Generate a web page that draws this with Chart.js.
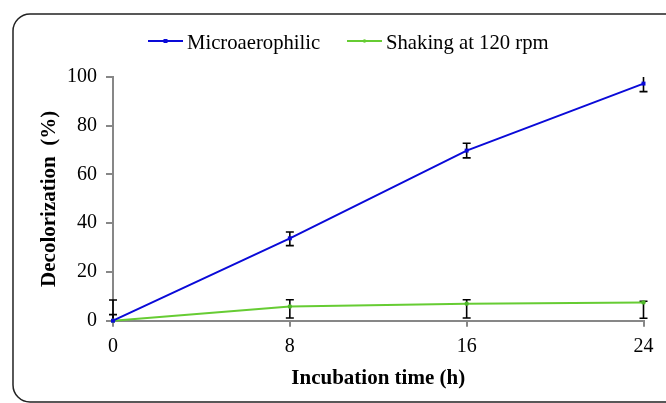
<!DOCTYPE html>
<html>
<head>
<meta charset="utf-8">
<script src="https://cdn.jsdelivr.net/npm/chart.js@4.4.1/dist/chart.umd.min.js"></script>
<style>
  html, body { margin: 0; padding: 0; background: #fff; }
  #wrap { width: 666px; height: 403px; position: relative; }
</style>
</head>
<body>
<div id="wrap"><canvas id="chart" width="666" height="403"></canvas></div>
<script>
// data
const hours = [0, 8, 16, 24];
const seriesNames = ["Microaerophilic", "Shaking at 120 rpm"];
const microValues = [0, 33.8, 69.8, 97.3];
const microLow = [-2.5, 30.8, 66.8, 94.0];
const microHigh = [2.5, 36.4, 72.8, 100.6];
const shakeValues = [0, 5.8, 7.0, 7.5];
const shakeLow = [-8.5, 1.1, 1.1, 1.0];
const shakeHigh = [8.5, 8.6, 8.6, 8.0];
const xTicks = [0, 8, 16, 24];
const yTicks = [0, 20, 40, 60, 80, 100];

const serif = '"Liberation Serif", "Times New Roman", serif';
const blue = "#0a0ad8";
const green = "#66cc33";
const axisGrey = "#878787";
const ink = "#000";

function toPoints(xs, ys) {
  return xs.map((x, i) => ({ x: x, y: ys[i] }));
}

// rounded frame round the whole figure
const framePlugin = {
  id: "frame",
  beforeDraw(chart) {
    const ctx = chart.ctx;
    ctx.save();
    ctx.fillStyle = "#fff";
    ctx.fillRect(0, 0, chart.width, chart.height);
    ctx.beginPath();
    ctx.roundRect(13, 14, 720, 388, 17);
    ctx.lineWidth = 1.5;
    ctx.strokeStyle = "#222";
    ctx.stroke();
    ctx.restore();
  },
};

// error bars, clipped at the plot area like in the original
const errorBarPlugin = {
  id: "errorBars",
  beforeDatasetsDraw(chart) {
    const ctx = chart.ctx;
    const area = chart.chartArea;
    const yScale = chart.scales.y;
    const bounds = [
      [microLow, microHigh],
      [shakeLow, shakeHigh],
    ];
    ctx.save();
    ctx.beginPath();
    ctx.rect(area.left - 10, area.top, area.right - area.left + 20, area.bottom - area.top);
    ctx.clip();
    ctx.strokeStyle = "#000";
    ctx.lineWidth = 1.6;
    chart.data.datasets.forEach((ds, i) => {
      const meta = chart.getDatasetMeta(i);
      meta.data.forEach((pt, j) => {
        const yl = yScale.getPixelForValue(bounds[i][0][j]);
        const yh = yScale.getPixelForValue(bounds[i][1][j]);
        ctx.beginPath();
        ctx.moveTo(pt.x, yl);
        ctx.lineTo(pt.x, yh);
        ctx.moveTo(pt.x - 4, yl);
        ctx.lineTo(pt.x + 4, yl);
        ctx.moveTo(pt.x - 4, yh);
        ctx.lineTo(pt.x + 4, yh);
        ctx.stroke();
      });
    });
    ctx.restore();
  },
};

// legend drawn by hand: short line with the marker in the middle
const legendPlugin = {
  id: "handLegend",
  afterDraw(chart) {
    const ctx = chart.ctx;
    const items = [
      { x: 148, color: blue, style: "rect" },
      { x: 347, color: green, style: "circle" },
    ];
    ctx.save();
    ctx.font = "20.7px " + serif;
    ctx.textBaseline = "alphabetic";
    items.forEach((it, i) => {
      const y = 41;
      ctx.strokeStyle = it.color;
      ctx.lineWidth = 2;
      ctx.beginPath();
      ctx.moveTo(it.x, y);
      ctx.lineTo(it.x + 35, y);
      ctx.stroke();
      ctx.fillStyle = it.color;
      if (it.style === "rect") {
        ctx.fillRect(it.x + 15.5, y - 2, 4, 4);
      } else {
        ctx.beginPath();
        ctx.arc(it.x + 17.5, y, 1.8, 0, Math.PI * 2);
        ctx.fill();
      }
      ctx.fillStyle = ink;
      ctx.fillText(seriesNames[i], it.x + 39, 49);
    });
    ctx.restore();
  },
};

const ctx = document.getElementById("chart").getContext("2d");

new Chart(ctx, {
  type: "line",
  data: {
    datasets: [
      {
        label: seriesNames[0],
        data: toPoints(hours, microValues),
        borderColor: blue,
        backgroundColor: blue,
        borderWidth: 2,
        pointStyle: "rect",
        pointRadius: 2.8,
        pointBorderWidth: 0,
        tension: 0,
        clip: false,
      },
      {
        label: seriesNames[1],
        data: toPoints(hours, shakeValues),
        borderColor: green,
        backgroundColor: "#4fb82a",
        borderWidth: 2,
        pointStyle: "circle",
        pointRadius: 2.2,
        pointBorderWidth: 0,
        tension: 0,
        clip: false,
      },
    ],
  },
  options: {
    responsive: false,
    animation: false,
    devicePixelRatio: 1,
    layout: {
      padding: { left: 33, top: 77, right: 22.5, bottom: 8 },
    },
    plugins: {
      legend: { display: false },
      tooltip: { enabled: false },
    },
    scales: {
      x: {
        type: "linear",
        min: 0,
        max: 24,
        afterBuildTicks: (scale) => {
          scale.ticks = xTicks.map((v) => ({ value: v }));
        },
        afterFit: (scale) => {
          scale.height = 74.3;
        },
        border: { color: axisGrey, width: 2 },
        grid: {
          display: true,
          drawOnChartArea: false,
          drawTicks: true,
          tickLength: 6,
          color: axisGrey,
          lineWidth: 2,
        },
        ticks: {
          color: ink,
          padding: 8,
          maxRotation: 0,
          font: { family: serif, size: 20 },
        },
        title: {
          display: true,
          text: "Incubation time (h)",
          color: ink,
          padding: 4,
          font: { family: serif, size: 21, weight: "bold" },
        },
      },
      y: {
        min: 0,
        max: 100,
        afterBuildTicks: (scale) => {
          scale.ticks = yTicks.map((v) => ({ value: v }));
        },
        afterFit: (scale) => {
          scale.width = 80;
        },
        border: { color: axisGrey, width: 2 },
        grid: {
          display: true,
          drawOnChartArea: false,
          drawTicks: true,
          tickLength: 7,
          color: axisGrey,
          lineWidth: 2,
        },
        ticks: {
          color: ink,
          padding: 9,
          font: { family: serif, size: 20 },
        },
        title: {
          display: true,
          text: "Decolorization  (%)",
          color: ink,
          padding: 4,
          font: { family: serif, size: 21, weight: "bold" },
        },
      },
    },
  },
  plugins: [framePlugin, errorBarPlugin, legendPlugin],
});
</script>
</body>
</html>
